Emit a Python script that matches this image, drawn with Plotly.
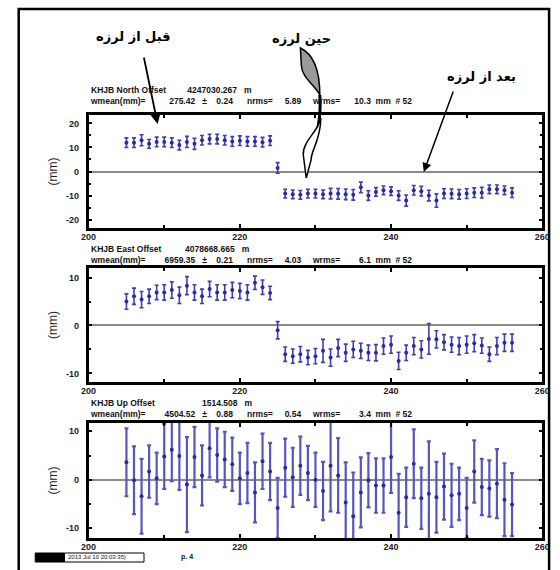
import plotly.graph_objects as go

W, H = 560, 570

days = list(range(205, 257))

north = [12, 12, 13, 11.5, 12.3, 12.3, 12, 11, 12.3, 11.5, 13, 13.5, 13.5, 13, 12.5, 12.8,
         12.5, 12.5, 12.2, 12.8,
         1.5,
         -9.2, -9.5, -9.7, -9.2, -9.2, -9.5, -9.2, -9.3, -9.5, -9.7, -6.6, -10, -8.5, -7.8,
         -8.2, -10, -12.1, -7.8, -8.2, -10, -12.1, -9.2, -9.3, -9.5, -9.2, -8.8, -8.8, -7.4,
         -7.4, -7.8, -8.8]
north_err = [2.0, 2.0, 2.3, 1.8, 2.0, 2.0, 2.0, 2.0, 2.3, 2.3, 2.0, 2.0, 2.0, 2.0, 2.0, 2.0,
             2.0, 2.0, 2.0, 2.0,
             2.2,
             1.8, 1.8, 1.8, 1.8, 1.8, 1.8, 2.2, 2.2, 2.2, 2.2, 2.2, 2.0, 1.8, 1.8, 1.8,
             2.0, 2.3, 2.0, 2.0, 2.2, 2.8, 2.0, 2.0, 2.0, 2.0, 2.0, 2.2, 1.8, 1.8, 1.8, 2.0]

east = [5, 6.1, 5.4, 6.1, 6.9, 6.9, 7.4, 6.3, 8.3, 6.9, 6.1, 7.6, 6.9, 6.9, 7.4, 7.2,
        6.9, 8.9, 8, 6.8,
        -1,
        -6,
        -6.4, -6, -6.7, -6.4, -5.3, -6.7, -4.7, -5.7, -5, -5.3, -5.7, -5.7, -4.3, -4,
        -7.4, -5.7, -4.3, -5, -2.8, -2.9, -3.5, -4, -4.3, -4, -3.7, -4.2, -6, -4.3, -3.6, -3.6]
east_err = [1.6, 1.7, 1.7, 1.5, 1.5, 1.6, 1.7, 1.7, 1.9, 1.6, 1.5, 1.6, 1.6, 1.6, 1.6, 1.6,
            1.6, 1.4, 1.5, 1.4,
            1.8,
            1.5,
            1.5, 1.6, 1.5, 1.6, 2.4, 1.8, 1.8, 1.8, 1.7, 1.6, 1.6, 1.7, 1.7, 1.8,
            1.8, 1.6, 1.8, 1.8, 3.2, 1.8, 1.6, 1.6, 1.8, 1.8, 1.8, 1.6, 1.5, 1.8, 1.8, 1.8]

up = [3.6, -0.1, -3.4, 1.7, 0.3, 4.8, 6.2, 4.9, -1, 4.7, 0.9, 6.5, 5.1, 4.2, 3.2, 0.3,
      1.4, -2.6, 3.8, 1.7, -5.8, 2.5, 0.5, 2.9, 1.4, 0, -2.3, 2.9, 0.9, -4.7, -7.5, -2.6,
      -0.1, -1.2, -1.2, 4.7, -6.8, -3.6, 3.3, -3.8, -2.9, -3.6, -1.4, -3.2, -2.9, -5.8,
      1.7, -1.5, -1.8, -0.8, -4.1, -5.1]
up_err = [7, 7, 7.7, 5.4, 5.3, 6.7, 6.5, 7, 9.8, 6.2, 6.2, 6, 5.5, 5.7, 5.5, 5.3,
          6.2, 6.2, 5.7, 5.9, 6.2, 6, 6.1, 6, 5.6, 5.6, 6, 9.4, 7.7, 8.3, 9, 7.2,
          5.6, 5.6, 5.6, 7.4, 8, 6.1, 7.1, 6.3, 10.8, 7.3, 6.8, 6.5, 5.4, 6.2,
          6.4, 5.8, 5.8, 7.1, 7.5, 6.5]

x_ticks = [200, 220, 240, 260]


def sp(n):
    return "\u00a0" * n


headers = [
    ("KHJB North Offset" + sp(9) + "4247030.267" + sp(3) + "m",
     "wmean(mm)=" + sp(10) + "275.42" + sp(3) + "\u00b1" + sp(4) + "0.24" + sp(6) + "nrms="
     + sp(5) + "5.89" + sp(5) + "wrms=" + sp(6) + "10.3" + sp(2) + "mm" + sp(2) + "#" + sp(1) + "52"),
    ("KHJB East Offset" + sp(10) + "4078668.665" + sp(3) + "m",
     "wmean(mm)=" + sp(8) + "6959.35" + sp(3) + "\u00b1" + sp(4) + "0.21" + sp(6) + "nrms="
     + sp(5) + "4.03" + sp(5) + "wrms=" + sp(8) + "6.1" + sp(2) + "mm" + sp(2) + "#" + sp(1) + "52"),
    ("KHJB Up Offset" + sp(20) + "1514.508" + sp(3) + "m",
     "wmean(mm)=" + sp(8) + "4504.52" + sp(3) + "\u00b1" + sp(4) + "0.88" + sp(6) + "nrms="
     + sp(5) + "0.54" + sp(5) + "wrms=" + sp(8) + "3.4" + sp(2) + "mm" + sp(2) + "#" + sp(1) + "52"),
]
labels_fa = ["\u0642\u0628\u0644 \u0627\u0632 \u0644\u0631\u0632\u0647",
             "\u062d\u06cc\u0646 \u0644\u0631\u0632\u0647",
             "\u0628\u0639\u062f \u0627\u0632 \u0644\u0631\u0632\u0647"]


def X(px):
    return px / W


def Y(py):
    return 1 - py / H


MARK = "#2b2b9e"
ERRC = "#3f3fb0"

fig = go.Figure()
series = [(north, north_err, 1.6, ERRC), (east, east_err, 1.6, ERRC), (up, up_err, 2.2, "#5656bc")]
for i, (vals, errs, th, ec) in enumerate(series):
    suffix = "" if i == 0 else str(i + 1)
    fig.add_trace(go.Scatter(
        x=days, y=vals, mode="markers",
        marker=dict(size=4, color=MARK),
        error_y=dict(type="data", array=errs, visible=True, color=ec, thickness=th, width=2),
        xaxis="x" + suffix, yaxis="y" + suffix, showlegend=False,
    ))

# panel pixel boxes (top, bottom)
panels = [(115, 228), (268, 382), (423, 538)]
yranges = [[-23.5, 23.5], [-11.8, 12], [-12, 11.7]]
ytickvals = [[-20, -10, 0, 10, 20], [-10, 0, 10], [-10, 0, 10]]

tfont = dict(family="Liberation Sans", size=9, color="#222")
layout = dict(
    width=W, height=H, margin=dict(l=0, r=0, t=0, b=0),
    paper_bgcolor="white", plot_bgcolor="white",
)
for i, (top, bot) in enumerate(panels):
    suffix = "" if i == 0 else str(i + 1)
    layout["xaxis" + suffix] = dict(
        domain=[X(83), X(550)], range=[200, 260], anchor="y" + suffix,
        tickvals=x_ticks, ticktext=["<b>%d</b>" % t for t in x_ticks],
        ticks="inside", ticklen=4, tickwidth=1.5, tickcolor="black",
        minor=dict(dtick=10, ticks="inside", ticklen=3, tickcolor="black", showgrid=False),
        showline=True, linewidth=2.5, linecolor="black", mirror="allticks",
        showgrid=False, zeroline=False, tickfont=tfont, ticklabelstandoff=-2,
    )
    layout["yaxis" + suffix] = dict(
        domain=[Y(bot), Y(top)], range=yranges[i], anchor="x" + suffix,
        tickvals=ytickvals[i], ticktext=["<b>%d</b>" % t for t in ytickvals[i]],
        ticks="inside", ticklen=4, tickwidth=1.5, tickcolor="black",
        minor=dict(dtick=5, ticks="inside", ticklen=3, tickcolor="black", showgrid=False),
        showline=True, linewidth=2.5, linecolor="black", mirror="allticks",
        showgrid=False, zeroline=True, zerolinecolor="#8a8a8a", zerolinewidth=2,
        tickfont=tfont, ticklabelstandoff=5,
        title=dict(text="(mm)", font=dict(family="Liberation Sans", size=12, color="#222"), standoff=6),
    )
fig.update_layout(**layout)

annotations = []
header_cy = [96, 254, 408]
for (l1, l2), cy in zip(headers, header_cy):
    annotations.append(dict(
        x=X(83), y=Y(cy), xref="paper", yref="paper", xanchor="left", yanchor="middle",
        align="left", text=l1 + "<br>" + l2, showarrow=False, borderpad=0,
        font=dict(family="Liberation Sans", size=8.5, color="#111", weight="bold"),
    ))

fa_font = dict(family="DejaVu Sans", size=13, color="black", weight="bold")
for txt, (cx, cy) in zip(labels_fa, [(129, 37), (302, 39), (487, 77)]):
    annotations.append(dict(x=X(cx), y=Y(cy), xref="paper", yref="paper", xanchor="center",
                            yanchor="middle", text=txt, showarrow=False, font=fa_font))
# arrows (tail offsets in pixels)
annotations.append(dict(x=X(154), y=Y(124), ax=140 - 154, ay=56 - 124, xref="paper", yref="paper",
                        axref="pixel", ayref="pixel", showarrow=True, arrowhead=2, arrowsize=1.2,
                        arrowwidth=1.8, arrowcolor="black", text=""))
annotations.append(dict(x=X(428), y=Y(172), ax=458 - 428, ay=90 - 172, xref="paper", yref="paper",
                        axref="pixel", ayref="pixel", showarrow=True, arrowhead=2, arrowsize=1.2,
                        arrowwidth=1.5, arrowcolor="black", text=""))

# footer
annotations.append(dict(x=X(60), y=Y(557), xref="paper", yref="paper", xanchor="left", yanchor="middle",
                        text="2013 Jul 10 20:03:35)", showarrow=False,
                        font=dict(family="Liberation Sans", size=6, color="#111")))
annotations.append(dict(x=X(176), y=Y(557), xref="paper", yref="paper", xanchor="left", yanchor="middle",
                        text="p. 4", showarrow=False,
                        font=dict(family="Liberation Sans", size=7, color="#111", weight="bold")))
fig.update_layout(annotations=annotations)


def path(points_cmds):
    out = []
    for cmd in points_cmds:
        if isinstance(cmd, str):
            out.append(cmd)
        else:
            out.append("%.5f,%.5f" % (X(cmd[0]), Y(cmd[1])))
    return " ".join(out)


shapes = [
    # outer frame
    dict(type="rect", xref="paper", yref="paper", x0=X(11), y0=Y(9), x1=X(557), y1=Y(575),
         line=dict(color="black", width=2.5), fillcolor="rgba(0,0,0,0)"),
    # footer boxes
    dict(type="rect", xref="paper", yref="paper", x0=X(28), y0=Y(553), x1=X(58), y1=Y(562),
         line=dict(color="black", width=1), fillcolor="black"),
    dict(type="rect", xref="paper", yref="paper", x0=X(58), y0=Y(553), x1=X(140), y1=Y(562),
         line=dict(color="black", width=1), fillcolor="rgba(0,0,0,0)"),
    # grey sail of the middle arrow
    dict(type="path", xref="paper", yref="paper",
         path=path(["M", (301, 48), "C", (314, 54), (321, 68), (321, 95),
                    "C", (315, 84), (303, 78), (302, 66), "Z"]),
         fillcolor="#9a9a9a", line=dict(color="black", width=1.5)),
    dict(type="path", xref="paper", yref="paper",
         path=path(["M", (321, 95), "C", (322, 108), (321, 118), (319, 128)]),
         line=dict(color="black", width=3)),
    # hollow curved lower arrow
    dict(type="path", xref="paper", yref="paper",
         path=path(["M", (319, 126), "C", (313, 136), (303, 145), (304, 155),
                    "L", (307, 178), "L", (312, 160),
                    "C", (312, 150), (322, 140), (322, 118), "Z"]),
         fillcolor="white", line=dict(color="black", width=1.5)),
]
fig.update_layout(shapes=shapes)

fig.write_html("out.html")
